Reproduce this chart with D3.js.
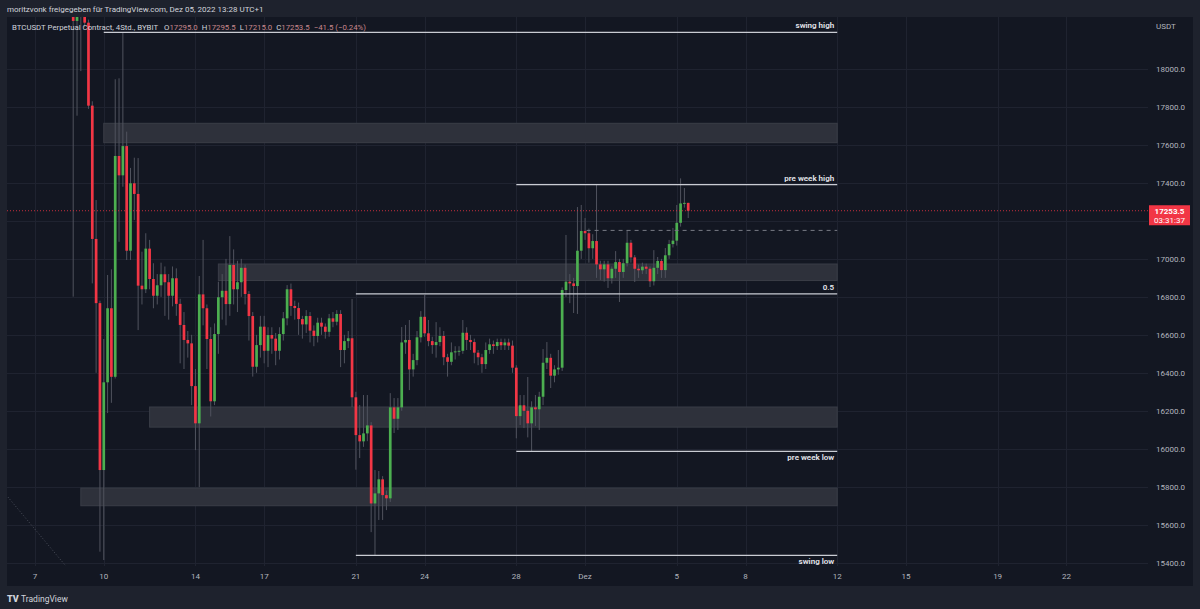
<!DOCTYPE html>
<html><head><meta charset="utf-8">
<script src="https://cdn.jsdelivr.net/npm/d3@7"></script>
<style>html,body{margin:0;padding:0;background:#1e222d;overflow:hidden} svg{display:block;font-family:Roboto,"Noto Sans",sans-serif;}</style>
</head><body><svg id="c" width="1200" height="609"></svg>
<script>
// ---- data (4h bars, bar index 0 = Nov 7 01:00 UTC+1) ----
const firstBar = 10;
const opens = [
18420,18253,18380,18460,18244,17807,17105,16767,15888,16350,
16740,16379,17542,17440,17594,17043,17398,17342,16859,16840,
17054,16894,16806,16861,16919,16877,16806,16898,16763,16652,
16573,16555,16330,16134,16813,16740,16578,16250,16604,16798,
16832,16762,16968,16840,16877,16953,16815,16699,16432,16546,
16643,16516,16599,16580,16516,16604,16687,16840,16752,16741,
16683,16655,16699,16622,16594,16664,16643,16616,16687,16669,
16710,16520,16567,16582,16271,16072,16039,16081,16123,15712,
15765,15839,15756,15739,16218,16158,16218,16560,16573,16418,
16467,16587,16695,16608,16567,16546,16562,16594,16482,16458,
16508,16513,16516,16611,16573,16562,16506,16482,16446,16520,
16550,16541,16562,16545,16560,16543,16427,16172,16229,16200,
16134,16218,16208,16274,16453,16479,16385,16418,16427,16836,
16880,16871,16857,17043,17147,17135,17056,17094,16971,16945,
16971,16898,16948,16983,16931,16977,17085,17008,16948,16940,
16959,16948,16882,16953,16989,16941,17019,17078,17096,17190,
17292,17295.0];
const highs = [
18500,18450,18600,18520,18260,17830,17310,16780,16578,16915,
16945,17946,17951,18193,17670,17479,17533,17531,17038,17135,
17100,16977,16920,16980,16960,16920,16960,16950,16790,16720,
16620,16600,16420,16910,17100,16760,16640,16660,16880,16920,
17000,17120,17050,16990,17000,16970,16830,16720,16600,16700,
16700,16640,16640,16610,16640,16720,16862,16870,16780,16770,
16700,16730,16720,16650,16690,16690,16660,16710,16720,16730,
16730,16600,16620,16789,16300,16230,16283,16283,16140,15888,
15883,15856,15780,16293,16267,16267,16641,16652,16678,16500,
16620,16725,16810,16678,16590,16667,16640,16620,16500,16560,
16540,16540,16678,16640,16600,16580,16520,16500,16560,16580,
16570,16580,16580,16580,16580,16570,16440,16283,16283,16378,
16250,16283,16300,16525,16562,16500,16440,16520,16850,17126,
16920,16900,17273,17284,17215,17160,17130,17391,16990,16990,
16990,16960,17041,17000,17000,17152,17100,17020,16970,16980,
16975,16960,17046,17010,17000,17057,17100,17163,17284,17424,
17373,17295.5];
const lows = [
16801,17754,17989,18220,17790,16871,16400,15458,15414,16188,
16242,16370,17090,17380,16994,16994,17205,16625,16760,16820,
16840,16740,16760,16800,16700,16680,16750,16700,16450,16420,
16480,16230,15993,15798,16650,16420,16170,16230,16500,16680,
16650,16700,16760,16720,16800,16760,16570,16380,16400,16480,
16450,16430,16500,16440,16470,16570,16650,16700,16680,16600,
16580,16610,16560,16540,16560,16600,16580,16590,16640,16650,
16430,16450,16530,16220,15890,15951,16010,16040,15561,15439,
15625,15625,15677,15720,16083,16099,16200,16500,16309,16380,
16440,16560,16590,16540,16500,16480,16540,16440,16380,16440,
16470,16490,16500,16520,16520,16450,16440,16400,16420,16500,
16500,16520,16520,16520,16520,16400,16055,16125,16109,16060,
15986,16120,16099,16230,16420,16320,16350,16390,16410,16800,
16767,16715,16710,17000,17100,16980,17000,16900,16889,16880,
16847,16870,16900,16773,16900,16960,16980,16878,16900,16920,
16920,16852,16860,16920,16900,16900,17000,17060,17070,17170,
17270,17215.0];
const closes = [
18253,18380,18460,18244,17807,17105,16767,15888,16350,16740,
16379,17542,17440,17594,17043,17398,17342,16859,16840,17054,
16894,16806,16861,16919,16877,16806,16898,16763,16652,16573,
16555,16330,16134,16813,16740,16578,16250,16604,16798,16832,
16762,16968,16840,16877,16953,16815,16699,16432,16546,16643,
16516,16599,16580,16516,16604,16687,16840,16752,16741,16683,
16655,16699,16622,16594,16664,16643,16616,16687,16669,16710,
16520,16567,16582,16271,16072,16039,16081,16123,15712,15765,
15839,15756,15739,16218,16158,16218,16560,16573,16418,16467,
16587,16695,16608,16567,16546,16562,16594,16482,16458,16508,
16513,16516,16611,16573,16562,16506,16482,16446,16520,16550,
16541,16562,16545,16560,16543,16427,16172,16229,16200,16134,
16218,16208,16274,16453,16479,16385,16418,16427,16836,16880,
16871,16857,17043,17147,17135,17056,17094,16971,16945,16971,
16898,16948,16983,16931,16977,17085,17008,16948,16940,16959,
16948,16882,16953,16989,16941,17019,17078,17096,17190,17292,
17295,17253.5];

// time axis ticks: bar index of first bar of the day, label
const dayTickBars   = [0, 18, 42, 60, 84, 102, 126, 144, 168, 186, 210, 228, 252, 270];
const dayTickLabels = ["7","10","14","17","21","24","28","Dez","5","8","12","15","19","22"];
// price axis ticks
const priceTicks = d3.range(15400, 18001, 200);

// drawings (price levels / zones)
const zones = [ // [startBar, endBar, top, bottom]
  [18, 210, 17714, 17612],
  [48, 210, 16973, 16886],
  [30, 210, 16220, 16114],
  [12, 210, 15793, 15700]
];
const levels = [ // [startBar, endBar, price, label, labelPos]
  [18, 210, 18193, "swing high", "above"],
  [126, 210, 17391, "pre week high", "above"],
  [84, 210, 16816, "0.5", "above"],
  [126, 210, 15986, "pre week low", "below"],
  [84, 210, 15439, "swing low", "below"]
];
const dashedLevel = [144.4, 210, 17150];
const trendLine = [[-7.1, 15746], [8.1, 15382]];
const lastPrice = 17253.5;
const countdown = "03:31:37";

// ---- layout ----
const W = 1200, H = 609;
const pane = {x0: 7, x1: 1148, y0: 17, y1: 566};
const svg = d3.select("#c");
const x = d3.scaleLinear().domain([0, 144]).range([35, 585.08]);
const y = d3.scaleLinear().domain([15400, 18000]).range([562.7, 69]);

svg.append("rect").attr("width", W).attr("height", H).attr("fill", "#1e222d");
svg.append("rect").attr("x", 7).attr("y", 17).attr("width", 1186).attr("height", 569).attr("fill", "#131722");

svg.append("defs").append("clipPath").attr("id", "pc").append("rect")
  .attr("x", pane.x0).attr("y", pane.y0).attr("width", pane.x1 - pane.x0).attr("height", pane.y1 - pane.y0);
const g = svg.append("g").attr("clip-path", "url(#pc)");

// grid
g.selectAll(".hg").data(priceTicks).join("line")
  .attr("x1", pane.x0).attr("x2", pane.x1)
  .attr("y1", d => Math.round(y(d)) + 0.5).attr("y2", d => Math.round(y(d)) + 0.5)
  .attr("stroke", "#1f2330").attr("stroke-width", 1);
g.selectAll(".vg").data(dayTickBars).join("line")
  .attr("x1", d => Math.round(x(d)) + 0.5).attr("x2", d => Math.round(x(d)) + 0.5)
  .attr("y1", pane.y0).attr("y2", pane.y1)
  .attr("stroke", "#1f2330").attr("stroke-width", 1);

// trend line (dotted)
g.append("line")
  .attr("x1", x(trendLine[0][0])).attr("y1", y(trendLine[0][1]))
  .attr("x2", x(trendLine[1][0])).attr("y2", y(trendLine[1][1]))
  .attr("stroke", "#4a4e5a").attr("stroke-width", 1).attr("stroke-dasharray", "1,2");

// zones
g.selectAll(".zone").data(zones).join("rect")
  .attr("x", d => x(d[0])).attr("width", d => x(d[1]) - x(d[0]))
  .attr("y", d => y(d[2])).attr("height", d => y(d[3]) - y(d[2]))
  .attr("fill", "#2e313b").attr("stroke", "#3a3d47").attr("stroke-width", 1);

// candles
const bars = opens.map((o, i) => ({k: firstBar + i, o, h: highs[i], l: lows[i], c: closes[i]}));
const bw = 2.7;
g.selectAll(".wick").data(bars).join("line")
  .attr("x1", d => x(d.k)).attr("x2", d => x(d.k))
  .attr("y1", d => y(d.h)).attr("y2", d => y(d.l))
  .attr("stroke", "#50535e").attr("stroke-width", 1);
g.selectAll(".body").data(bars).join("rect")
  .attr("x", d => x(d.k) - bw / 2).attr("width", bw)
  .attr("y", d => y(Math.max(d.o, d.c)))
  .attr("height", d => Math.max(1, Math.abs(y(d.o) - y(d.c))))
  .attr("fill", d => d.c >= d.o ? "#4caf50" : "#f23645");

// levels
g.selectAll(".lvl").data(levels).join("line")
  .attr("x1", d => x(d[0])).attr("x2", d => x(d[1]))
  .attr("y1", d => y(d[2])).attr("y2", d => y(d[2]))
  .attr("stroke", "#c9ccd3").attr("stroke-width", 1.3);
g.selectAll(".lvlt").data(levels).join("text")
  .attr("x", d => x(d[1]) - 3)
  .attr("y", d => d[4] === "above" ? y(d[2]) - 4 : y(d[2]) + 9)
  .attr("text-anchor", "end").attr("font-size", 8).attr("font-weight", 600)
  .attr("fill", "#e6e8ee").text(d => d[3]);
g.append("line")
  .attr("x1", x(dashedLevel[0])).attr("x2", x(dashedLevel[1]))
  .attr("y1", y(dashedLevel[2])).attr("y2", y(dashedLevel[2]))
  .attr("stroke", "#787b86").attr("stroke-width", 1).attr("stroke-dasharray", "4,4");

// last price dotted line
g.append("line")
  .attr("x1", pane.x0).attr("x2", pane.x1)
  .attr("y1", y(lastPrice)).attr("y2", y(lastPrice))
  .attr("stroke", "#f23645").attr("stroke-width", 1).attr("stroke-dasharray", "1,2").attr("opacity", 0.8);

// price axis
const pa = svg.append("g");
pa.selectAll("text").data(priceTicks).join("text")
  .attr("x", 1156).attr("y", d => y(d)).attr("dy", "0.35em")
  .attr("font-size", 8).attr("fill", "#b2b5be").text(d => d3.format(".1f")(d));
pa.append("text").attr("x", 1156).attr("y", 26).attr("dy", "0.35em")
  .attr("font-size", 8).attr("fill", "#b2b5be").text("USDT");
const ly = y(lastPrice);
pa.append("rect").attr("x", 1149).attr("y", ly - 5.5).attr("width", 41).attr("height", 20).attr("fill", "#f23645");
pa.append("text").attr("x", 1169.5).attr("y", ly).attr("dy", "0.35em").attr("text-anchor", "middle")
  .attr("font-size", 8).attr("font-weight", 700).attr("fill", "#fff").text(d3.format(".1f")(lastPrice));
pa.append("text").attr("x", 1169.5).attr("y", ly + 9).attr("dy", "0.35em").attr("text-anchor", "middle")
  .attr("font-size", 8).attr("fill", "#fff").text(countdown);

// time axis
svg.append("g").selectAll("text").data(dayTickBars).join("text")
  .attr("x", d => x(d)).attr("y", 576).attr("dy", "0.35em").attr("text-anchor", "middle")
  .attr("font-size", 8).attr("fill", "#b2b5be").text((d, i) => dayTickLabels[i]);

// header + legend
svg.append("text").attr("x", 7).attr("y", 9).attr("dy", "0.35em").attr("font-size", 8)
  .attr("fill", "#d1d4dc").text("moritzvonk freigegeben für TradingView.com, Dez 05, 2022 13:28 UTC+1");
const last = bars[bars.length - 1];
const fmt = d3.format(".1f");
const chg = last.c - last.o;
const leg = svg.append("text").attr("x", 12).attr("y", 27).attr("dy", "0.35em").attr("font-size", 7.8).attr("fill", "#d1d4dc");
leg.append("tspan").text("BTCUSDT Perpetual Contract, 4Std., BYBIT");
[["O", fmt(last.o)], ["H", fmt(last.h)], ["L", fmt(last.l)], ["C", fmt(last.c)]].forEach((p, i) => {
  leg.append("tspan").attr("dx", i === 0 ? 6 : 4).text(p[0]);
  leg.append("tspan").attr("fill", "#c8878d").text(p[1]);
});
leg.append("tspan").attr("dx", 4).attr("fill", "#c8878d")
  .text("\u2212" + fmt(Math.abs(chg)) + " (\u2212" + d3.format(".2f")(Math.abs(chg) / last.o * 100) + "%)");

// footer logo
const ft = svg.append("g");
ft.append("text").attr("x", 7).attr("y", 599).attr("dy", "0.35em").attr("font-size", 9).attr("font-weight", 900)
  .attr("fill", "#d1d4dc").text("TV");
ft.append("text").attr("x", 21).attr("y", 599).attr("dy", "0.35em").attr("font-size", 8.5)
  .attr("fill", "#d1d4dc").text("TradingView");
</script></body></html>
